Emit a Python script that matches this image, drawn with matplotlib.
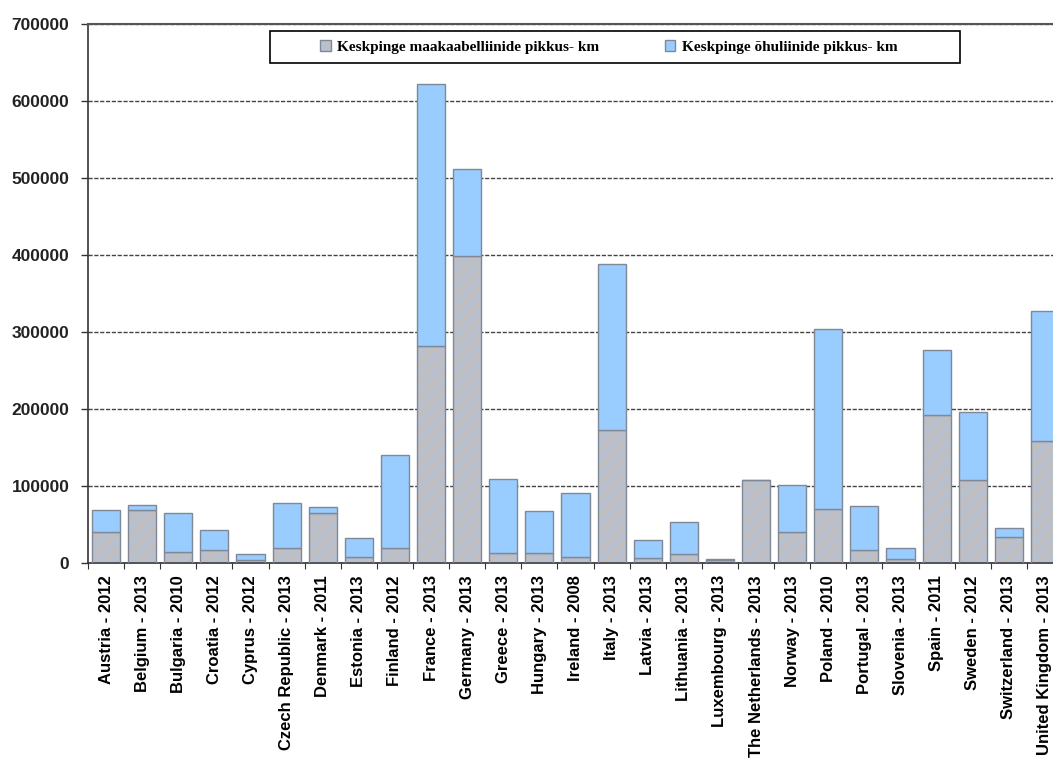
import numpy as np
import matplotlib.pyplot as plt
from matplotlib.patches import Patch, Rectangle

plt.rcParams['font.family'] = 'sans-serif'
plt.rcParams['font.sans-serif'] = ['Liberation Sans', 'DejaVu Sans']
plt.rcParams['hatch.linewidth'] = 1.0

countries = ["Austria - 2012", "Belgium - 2013", "Bulgaria - 2010", "Croatia - 2012",
             "Cyprus - 2012", "Czech Republic - 2013", "Denmark - 2011", "Estonia - 2013",
             "Finland - 2012", "France - 2013", "Germany - 2013", "Greece - 2013",
             "Hungary - 2013", "Ireland - 2008", "Italy - 2013", "Latvia - 2013",
             "Lithuania - 2013", "Luxembourg - 2013", "The Netherlands - 2013", "Norway - 2013",
             "Poland - 2010", "Portugal - 2013", "Slovenia - 2013", "Spain - 2011",
             "Sweden - 2012", "Switzerland - 2013", "United Kingdom - 2013"]

# km of underground MV cable
cable_km = [40000, 69000, 14000, 17000, 4000, 19000, 64000, 8000,
            19000, 281000, 398000, 12000, 13000, 8000, 172000, 6000,
            11000, 4000, 107000, 40000, 70000, 17000, 5000, 192000,
            108000, 33000, 158000]
# km of MV overhead lines
overhead_km = [29000, 6000, 50000, 26000, 7000, 59000, 9000, 24000,
               121000, 341000, 113000, 97000, 54000, 83000, 216000, 24000,
               42000, 1000, 0, 61000, 234000, 57000, 14000, 85000,
               88000, 12000, 169000]

labels = ["Keskpinge maakaabelliinide pikkus- km", "Keskpinge õhuliinide pikkus- km"]

gray = '#b9c0cb'
blue = '#99ccff'
edge = '#7f8896'

fig = plt.figure(figsize=(10.53, 7.61), dpi=100)
ax = fig.add_axes([0.0836, 0.2606, 0.9259, 0.7079])

x = np.arange(len(countries))
cable = np.array(cable_km)
over = np.array(overhead_km)
w = 0.78

ax.bar(x, cable, w, color=gray, edgecolor='#cdbba8', hatch='//', linewidth=0, zorder=2)
ax.bar(x, cable, w, facecolor='none', edgecolor=edge, linewidth=1, zorder=3)
ax.bar(x, over, w, bottom=cable, color=blue, edgecolor=edge, linewidth=1, zorder=3)

ax.set_xlim(-0.5, len(countries) - 0.5)
ax.set_ylim(0, 700000)
ax.set_yticks(np.arange(0, 700001, 100000))
ax.set_yticklabels([str(v) for v in range(0, 700001, 100000)],
                   fontsize=12.5, fontweight='bold', color='#222222')
ax.tick_params(axis='y', direction='out', length=5, width=1, pad=8.5, color='#333333')

# Excel style: tick marks between categories, labels in the middle
ax.set_xticks(np.arange(-0.5, len(countries), 1.0))
ax.set_xticklabels([])
ax.set_xticks(x, minor=True)
ax.set_xticklabels(countries, minor=True, rotation=90, fontsize=12,
                   fontweight='bold', ha='center', va='top')
ax.tick_params(axis='x', which='major', direction='out', length=4, color='#333333')
ax.tick_params(axis='x', which='minor', length=0, pad=9)

ax.yaxis.grid(True, linestyle=(0, (3, 1.2)), color='#444444', linewidth=1)
ax.set_axisbelow(True)
for s in ['left', 'bottom']:
    ax.spines[s].set_color('#333333')
    ax.spines[s].set_linewidth(1.2)
ax.spines['top'].set_color('#555555')
ax.spines['top'].set_linewidth(1.5)
ax.spines['right'].set_visible(False)

# legend with its own frame
ax.add_patch(Rectangle((0.187, 0.928), 0.707, 0.059, transform=ax.transAxes,
                       facecolor='white', edgecolor='black', linewidth=1.2,
                       zorder=4, clip_on=False))
handles = [Patch(facecolor=gray, edgecolor=edge), Patch(facecolor=blue, edgecolor=edge)]
leg = ax.legend(handles, labels, loc='center', bbox_to_anchor=(0.534, 0.957),
                ncol=2, frameon=False, handlelength=0.7, handleheight=0.7,
                handletextpad=0.4, columnspacing=4.3,
                prop={'family': 'Liberation Serif', 'weight': 'bold', 'size': 11})
leg.set_zorder(5)

plt.savefig("out.png", dpi=100)
